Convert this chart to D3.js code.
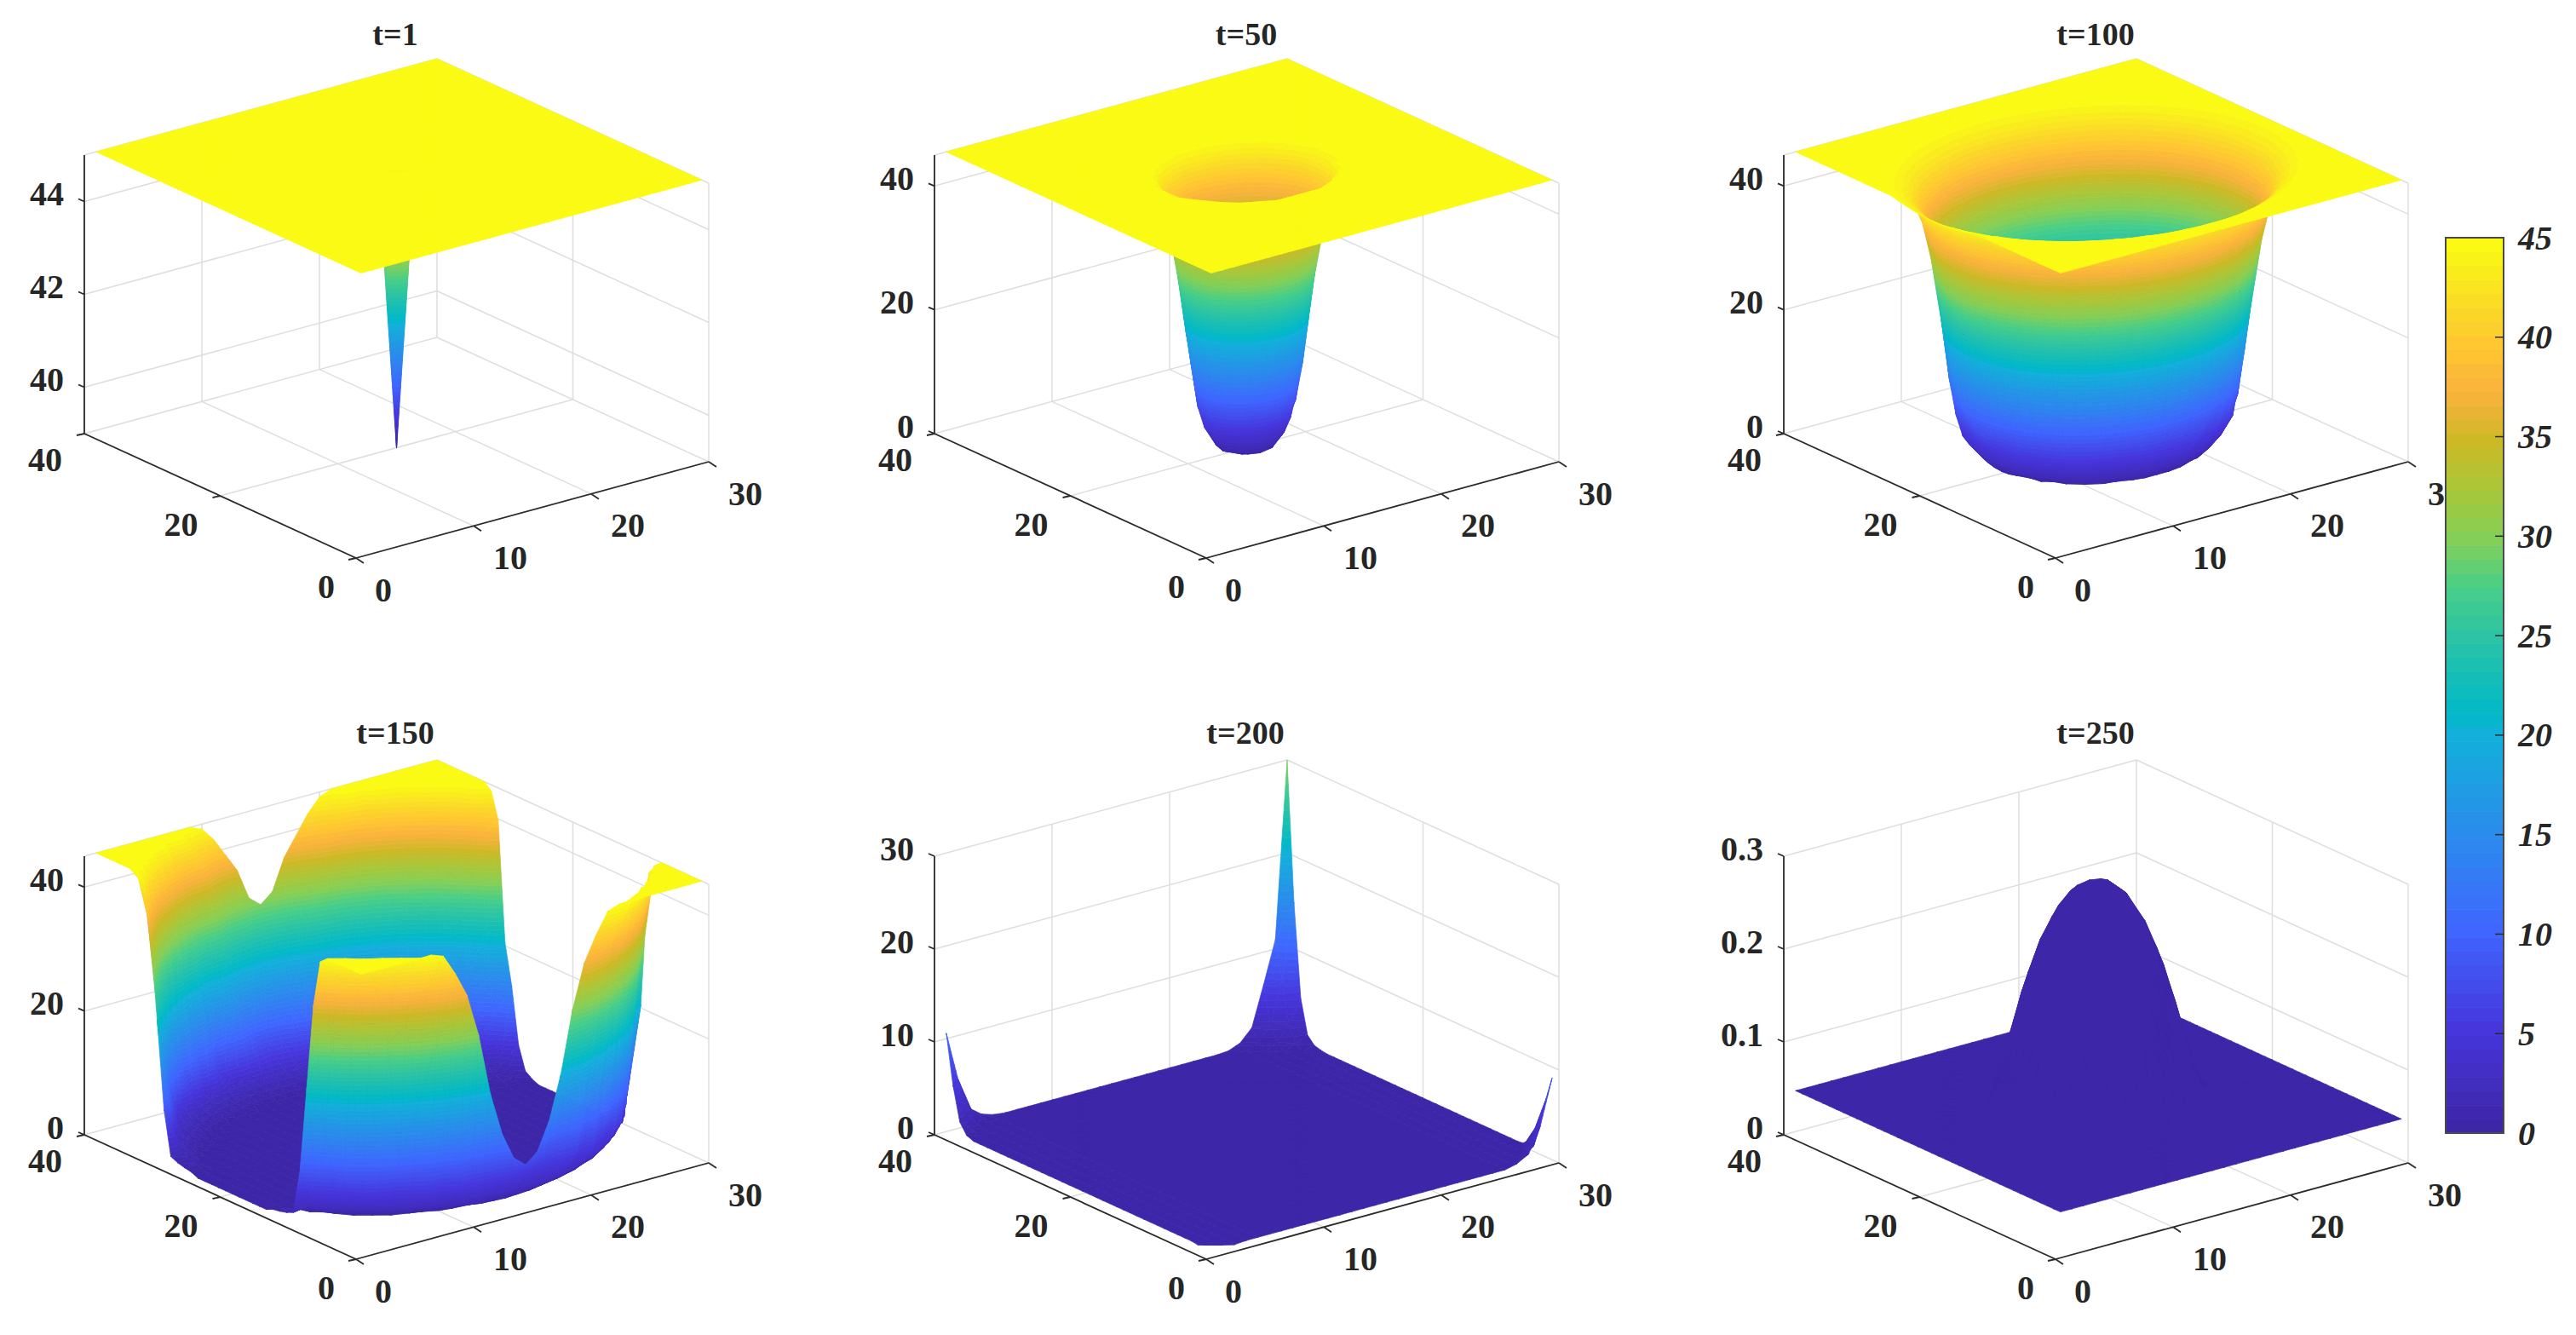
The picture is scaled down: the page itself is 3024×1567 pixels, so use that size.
<!DOCTYPE html>
<html>
<head>
<meta charset="utf-8">
<script src="https://cdn.jsdelivr.net/npm/d3@7"></script>
<style>
	html, body { margin: 0; background: #fff; }
	text { font-family: "Liberation Serif", serif; font-weight: bold; fill: #262626; }
</style>
</head>
<body>
<svg id="chart" width="3024" height="1567"></svg>
<script>
// axis ticks
const xTicks = [0, 10, 20, 30];
const yTicks = [0, 20, 40];
const colorbarTicks = [0, 5, 10, 15, 20, 25, 30, 35, 40, 45];

// colorbar
const colorValues = [0, 5, 10, 15, 20, 21, 25, 27.5, 30, 32.5, 35, 37.5, 40, 42, 45];
const colorHex = ['#3e26a8', '#4636dc', '#3f66ff', '#2a8cec', '#12b0da', '#00b9c8', '#2cc4a4', '#48cf88',
	'#84cf58', '#a9c739', '#cdb926', '#fab23c', '#ffc830', '#fadc25', '#fafa14'];

// surface heights. grid is x=1..30, y=1..40, the pit is centred on (15,20).
// rows are |y-20|, columns are |x-15|, the two sides of the pit look the same.
// anything past the end of a row is the flat level of that panel.
const t1Points = [[15, 20, 39]];

const t50Rows = [
	[0, 0, .5, 3.5, 14, 32.5, 42.5],
	[0, 0, .9, 4.3, 15.4, 33.5, 42.8],
	[.2, .5, 2.4, 7.2, 19.7, 36, 43.5],
	[2.1, 2.7, 5.4, 13.6, 27, 39.9, 44.6],
	[7.2, 8.8, 14, 23.6, 36, 42.8, 45],
	[19.2, 21, 27, 35.8, 41.8, 44.7],
	[35, 36, 39.5, 42.5, 44.6],
	[42.8, 43, 44, 44.8]
];

const t100Rows = [
	[0, 0, 0, 0, 0, 0, 0, 0, .3, 2.5, 7.6, 23.3, 37.3, 42.3, 44, 45],
	[0, 0, 0, 0, 0, 0, 0, 0, .4, 2.6, 8, 23.9, 37.6, 42.4, 44, 45],
	[0, 0, 0, 0, 0, 0, 0, .1, .7, 3, 9.5, 25.8, 38.3, 42.5, 44.1, 45],
	[0, 0, 0, 0, 0, 0, 0, .1, 1.2, 3.6, 11.9, 28.6, 39.4, 42.9, 44.3, 45],
	[0, 0, 0, 0, 0, 0, 0, .2, 1.9, 4.5, 15.7, 32.2, 40.5, 43.3, 44.5, 45],
	[0, 0, 0, 0, 0, 0, .1, .8, 2.8, 7.4, 21.7, 36, 41.7, 43.6, 44.7, 45],
	[0, 0, 0, 0, 0, .1, .3, 1.9, 4.2, 12.7, 28.4, 38.7, 42.4, 44, 45, 45],
	[0, 0, 0, 0, .1, .2, 1.4, 3.3, 8, 20.5, 34.8, 40.8, 43.3, 44.4, 45],
	[0, 0, .1, .1, .3, 1.4, 3, 5.6, 15.7, 29.5, 38.7, 42.3, 43.8, 44.8, 45],
	[.2, .2, .4, 1, 2, 3.3, 5.5, 13.8, 26.5, 36.6, 41.5, 43.4, 44.4, 45],
	[1.7, 1.9, 2.2, 3, 4.2, 7.6, 14.8, 25.8, 35.7, 40.5, 42.8, 44, 44.8, 45],
	[4.1, 4.3, 4.8, 7.4, 11.9, 18.8, 28.1, 36, 40.2, 42.5, 43.8, 44.6, 45],
	[12.7, 13.4, 15.7, 20, 25.8, 32.2, 37.3, 40.7, 42.5, 43.7, 44.5, 45],
	[28.1, 28.6, 30.9, 34.1, 36.9, 39.6, 41.7, 42.9, 43.8, 44.5, 45],
	[38.3, 38.7, 39.4, 40.5, 41.7, 42.5, 43.4, 44, 44.6, 45],
	[42.2, 42.4, 42.7, 43, 43.5, 43.9, 44.4, 44.8, 45],
	[43.8, 43.9, 44, 44.2, 44.5, 44.8, 45],
	[44.8, 44.8, 44.9, 45]
];

const t150Rows = [
	[0, 0, 0, 0, 0, 0, 0, 0, 0, 0, 0, 0, 0, 0, 0, 0],
	[0, 0, 0, 0, 0, 0, 0, 0, 0, 0, 0, 0, 0, 0, 0, 0],
	[0, 0, 0, 0, 0, 0, 0, 0, 0, 0, 0, 0, 0, 0, 0, 0],
	[0, 0, 0, 0, 0, 0, 0, 0, 0, 0, 0, 0, 0, 0, 0, 0],
	[0, 0, 0, 0, 0, 0, 0, 0, 0, 0, 0, 0, 0, 0, 0, 0],
	[0, 0, 0, 0, 0, 0, 0, 0, 0, 0, 0, 0, 0, 0, 0, 0],
	[0, 0, 0, 0, 0, 0, 0, 0, 0, 0, 0, 0, 0, .3, .5, .5],
	[0, 0, 0, 0, 0, 0, 0, 0, 0, 0, 0, 0, 0, .8, .7, 1.3],
	[0, 0, 0, 0, 0, 0, 0, 0, 0, 0, 0, 0, .1, 1.3, 1, 5],
	[0, 0, 0, 0, 0, 0, 0, 0, 0, 0, 0, 0, .7, 1.8, 1.5, 14],
	[0, 0, 0, 0, 0, 0, 0, 0, 0, 0, 0, .3, 1.4, 2.7, 8.6, 20.6],
	[0, 0, 0, 0, 0, 0, 0, 0, 0, 0, 0, 1.1, 2, 4, 22.5, 39.8],
	[0, 0, 0, 0, 0, 0, 0, 0, 0, 0, .9, 1.8, 3.4, 15.5, 36.5, 44],
	[0, 0, 0, 0, 0, 0, 0, 0, 0, .9, 1.7, 3, 7.5, 32.5, 44, 45],
	[0, 0, 0, 0, 0, 0, 0, .3, 1, 1.7, 3, 5.5, 29, 41.5, 45, 45],
	[0, 0, 0, 0, 0, .2, .7, 1.3, 1.9, 3.2, 5.8, 28, 40.3, 45],
	[.1, .2, .3, .6, .9, 1.3, 1.7, 2.6, 3.7, 10.5, 30, 40.4, 44.9, 45],
	[1.3, 1.3, 1.4, 1.6, 1.9, 2.6, 3.4, 5, 19.7, 33.5, 41.8, 45],
	[2.7, 2.7, 3, 3.4, 4, 6, 18, 30, 38, 44, 45],
	[7, 8.6, 13, 20, 30, 37, 41, 44.3, 45],
	[29.4, 31, 36, 39, 42, 44.2, 45]
];

// t=200 is flat apart from the four corners: [x, y, height]
const t200Points = [
	[30, 40, 30], [29, 40, 11], [28, 40, 6.5], [27, 40, 2.2], [26, 40, .9], [25, 40, .4],
	[30, 39, 15], [30, 38, 5], [30, 37, 1.4], [30, 36, .6], [30, 35, .4],
	[29, 39, 7], [28, 39, 2.5], [27, 39, 1], [29, 38, 2.5], [28, 38, 1], [29, 37, .8],
	[1, 40, 10.6], [2, 40, 5.3], [3, 40, 1.8], [4, 40, .85], [5, 40, .45],
	[1, 39, 5.3], [1, 38, 1.7], [1, 37, .6], [2, 39, 2], [3, 39, .7], [2, 38, .7],
	[30, 1, 8.8], [30, 2, 6], [30, 3, 3.3], [30, 4, 1.2], [30, 5, .4],
	[29, 1, 4], [28, 1, 1.3], [27, 1, .6], [29, 2, 1.5], [28, 2, .5], [29, 3, .7],
	[1, 1, 1.2], [2, 1, .5], [1, 2, .5], [3, 1, .2], [1, 3, .2], [2, 2, .2]
];

const t250Rows = [
	[.288, .286, .274, .25, .222, .17, .132, .08, .05],
	[.286, .284, .272, .248, .219, .167, .128, .078, .05],
	[.278, .275, .263, .242, .21, .17, .12, .073, .048],
	[.264, .26, .247, .226, .195, .152, .105, .065],
	[.242, .238, .224, .202, .17, .129, .084, .055],
	[.212, .207, .195, .171, .138, .097, .067],
	[.174, .17, .155, .133, .1, .073, .051],
	[.13, .125, .113, .093, .071, .053],
	[.084, .08, .073, .063, .05],
	[.054, .053, .05]
];

const GRID_X = d3.range(1, 31);
const GRID_Y = d3.range(1, 41);

function fromRows(rows, flat) {
	return function(x, y) {
		const row = rows[Math.abs(y - 20)];
		if (!row) return flat;
		const v = row[Math.abs(x - 15)];
		return v === undefined ? flat : v;
	};
}

function fromPoints(points, flat) {
	const lookup = new Map(points.map(p => [p[0] + '_' + p[1], p[2]]));
	return function(x, y) {
		const v = lookup.get(x + '_' + y);
		return v === undefined ? flat : v;
	};
}

const panels = [
	{ title: 't=1', height: fromPoints(t1Points, 45), zDomain: [39, 45], zTicks: [40, 42, 44], colorDomain: [39, 45], ox: 418, oy: 655, tx: 464, ty: 53 },
	{ title: 't=50', height: fromRows(t50Rows, 45), zDomain: [0, 45], zTicks: [0, 20, 40], colorDomain: [0, 45], ox: 1416, oy: 655, tx: 1463, ty: 53 },
	{ title: 't=100', height: fromRows(t100Rows, 45), zDomain: [0, 45], zTicks: [0, 20, 40], colorDomain: [0, 45], ox: 2413, oy: 655, tx: 2460, ty: 53 },
	{ title: 't=150', height: fromRows(t150Rows, 45), zDomain: [0, 45], zTicks: [0, 20, 40], colorDomain: [0, 45], ox: 418, oy: 1478, tx: 464, ty: 873 },
	{ title: 't=200', height: fromPoints(t200Points, .3), zDomain: [0, 30], zTicks: [0, 10, 20, 30], colorDomain: [0, 45], ox: 1416, oy: 1478, tx: 1462, ty: 873 },
	{ title: 't=250', height: fromRows(t250Rows, .044), zDomain: [0, .3], zTicks: [0, .1, .2, .3], colorDomain: [0, 45], ox: 2413, oy: 1478, tx: 2460, ty: 873 }
];

const xToH = d3.scaleLinear([0, 30], [0, 414]);
const xToV = d3.scaleLinear([0, 30], [0, -113]);
const yToH = d3.scaleLinear([0, 40], [0, -319]);
const yToV = d3.scaleLinear([0, 40], [0, -146]);
const BOX_HEIGHT = 327;
const LEVELS = 64;

const colorScale = d3.scaleLinear()
	.domain(colorValues.map(v => v / 45))
	.range(colorHex)
	.interpolate(d3.interpolateRgb);

const svg = d3.select('#chart');

// keep the part of a polygon where lo <= z <= hi
function clipZ(poly, lo, hi) {
	function clip(pts, inside, level) {
		const out = [];
		pts.forEach((p, i) => {
			const q = pts[(i + 1) % pts.length];
			const pIn = inside(p[2]), qIn = inside(q[2]);
			if (pIn) out.push(p);
			if (pIn !== qIn) {
				const f = (level - p[2]) / (q[2] - p[2]);
				out.push([p[0] + f * (q[0] - p[0]), p[1] + f * (q[1] - p[1]), level]);
			}
		});
		return out;
	}
	const a = clip(poly, z => z >= lo, lo);
	return a.length ? clip(a, z => z <= hi, hi) : a;
}

function drawPanel(panel) {
	const g = svg.append('g');
	const zMin = panel.zDomain[0], zMax = panel.zDomain[1];
	const zToV = d3.scaleLinear(panel.zDomain, [0, -BOX_HEIGHT]);
	const px = (x, y) => panel.ox + xToH(x) + yToH(y);
	const py = (x, y, z) => panel.oy + xToV(x) + yToV(y) + zToV(z);
	const pt = (x, y, z) => px(x, y) + ',' + py(x, y, z);
	const seg = (a, b) => 'M' + pt(a[0], a[1], a[2]) + 'L' + pt(b[0], b[1], b[2]);

	// back walls and floor
	var grid = '';
	xTicks.forEach(x => {
		grid += seg([x, 0, zMin], [x, 40, zMin]) + seg([x, 40, zMin], [x, 40, zMax]);
	});
	yTicks.forEach(y => {
		grid += seg([0, y, zMin], [30, y, zMin]) + seg([30, y, zMin], [30, y, zMax]);
	});
	panel.zTicks.concat([zMax]).forEach(z => {
		grid += seg([0, 40, z], [30, 40, z]) + seg([30, 40, z], [30, 0, z]);
	});
	g.append('path').attr('d', grid).attr('fill', 'none').attr('stroke', '#dedede').attr('stroke-width', 1.5);

	// axis lines and ticks
	var axes = seg([0, 0, zMin], [30, 0, zMin]) + seg([0, 0, zMin], [0, 40, zMin]) + seg([0, 40, zMin], [0, 40, zMax]);
	xTicks.forEach(x => {
		axes += 'M' + pt(x, 0, zMin) + 'l9,6';
	});
	yTicks.forEach(y => {
		axes += 'M' + pt(0, y, zMin) + 'l-9,2';
	});
	panel.zTicks.forEach(z => {
		axes += 'M' + pt(0, 40, z) + 'l-7,-3';
	});
	g.append('path').attr('d', axes).attr('fill', 'none').attr('stroke', '#2b2b2b').attr('stroke-width', 1.8);

	// surface: back to front, each triangle cut into colour bands
	const c0 = panel.colorDomain[0], cSpan = panel.colorDomain[1] - c0;
	const step = cSpan / LEVELS;
	const faces = [];
	function toPath(poly) {
		const screen = poly.map(p => [px(p[0], p[1]), py(p[0], p[1], p[2])]);
		// same winding for all, merged paths would cancel out where they fold over
		if (d3.polygonArea(screen) < 0) screen.reverse();
		return 'M' + screen.join('L') + 'Z';
	}
	function addTriangle(tri) {
		const zs = tri.map(p => p[2]);
		const k1 = Math.min(LEVELS - 1, Math.floor((d3.max(zs) - c0) / step));
		const k0 = Math.min(k1, Math.max(0, Math.floor((d3.min(zs) - c0) / step)));
		for (var k = k0; k <= k1; k++) {
			const poly = k0 === k1 ? tri : clipZ(tri, c0 + k * step, c0 + (k + 1) * step);
			if (poly.length < 3) continue;
			const color = colorScale(k / (LEVELS - 1));
			const d = toPath(poly);
			const last = faces[faces.length - 1];
			if (last && last.color === color) {
				last.d += d;
			} else {
				faces.push({ color: color, d: d });
			}
		}
	}
	for (var i = GRID_X.length - 2; i >= 0; i--) {
		for (var j = GRID_Y.length - 2; j >= 0; j--) {
			const x0 = GRID_X[i], x1 = GRID_X[i + 1], y0 = GRID_Y[j], y1 = GRID_Y[j + 1];
			const a = [x0, y0, panel.height(x0, y0)];
			const b = [x1, y0, panel.height(x1, y0)];
			const c = [x1, y1, panel.height(x1, y1)];
			const e = [x0, y1, panel.height(x0, y1)];
			addTriangle([b, c, e]);
			addTriangle([a, b, e]);
		}
	}
	g.append('g').selectAll('path')
		.data(faces)
		.join('path')
		.attr('d', d => d.d)
		.attr('fill', d => d.color)
		.attr('stroke', d => d.color)
		.attr('stroke-width', .7)
		.attr('stroke-linejoin', 'round');

	// labels
	g.append('text').attr('x', panel.tx).attr('y', panel.ty).attr('text-anchor', 'middle')
		.attr('font-size', 38).text(panel.title);

	g.append('g').selectAll('text')
		.data(xTicks)
		.join('text')
		.attr('x', d => px(d, 0) + (d === 0 ? 32 : 43))
		.attr('y', d => py(d, 0, zMin) + 37)
		.attr('dy', '.34em')
		.attr('text-anchor', 'middle')
		.attr('font-size', 40)
		.text(d => d);

	g.append('g').selectAll('text')
		.data(yTicks)
		.join('text')
		.attr('x', d => px(0, d) + (d === 0 ? -35 : -46))
		.attr('y', d => py(0, d, zMin) + (d === 40 ? 30 : 33))
		.attr('dy', '.34em')
		.attr('text-anchor', 'middle')
		.attr('font-size', 40)
		.text(d => d);

	g.append('g').selectAll('text')
		.data(panel.zTicks)
		.join('text')
		.attr('x', px(0, 40) - 24)
		.attr('y', d => py(0, 40, d) - 9)
		.attr('dy', '.34em')
		.attr('text-anchor', 'end')
		.attr('font-size', 40)
		.text(d => d);
}

panels.forEach(drawPanel);

// colorbar on top of everything, it hides part of the t=100 label
const barX = 2871, barW = 68;
const barY = d3.scaleLinear([0, 45], [1330, 279]);
const bar = svg.append('g');
bar.selectAll('rect')
	.data(d3.range(LEVELS))
	.join('rect')
	.attr('x', barX)
	.attr('width', barW)
	.attr('y', d => barY((d + 1) * 45 / LEVELS))
	.attr('height', d => barY(0) - barY(45 / LEVELS) + .6)
	.attr('fill', d => colorScale(d / (LEVELS - 1)));
bar.append('rect')
	.attr('x', barX).attr('y', barY(45)).attr('width', barW).attr('height', barY(0) - barY(45))
	.attr('fill', 'none').attr('stroke', '#4a4a4a').attr('stroke-width', 2);
bar.selectAll('line')
	.data(colorbarTicks.slice(1, -1))
	.join('line')
	.attr('x1', barX + barW - 10).attr('x2', barX + barW)
	.attr('y1', d => barY(d)).attr('y2', d => barY(d))
	.attr('stroke', '#2b2b2b').attr('stroke-width', 1.5);
bar.selectAll('text')
	.data(colorbarTicks)
	.join('text')
	.attr('x', 2956)
	.attr('y', d => barY(d))
	.attr('dy', '.34em')
	.attr('font-size', 40)
	.attr('font-style', 'italic')
	.text(d => d);
</script>
</body>
</html>
